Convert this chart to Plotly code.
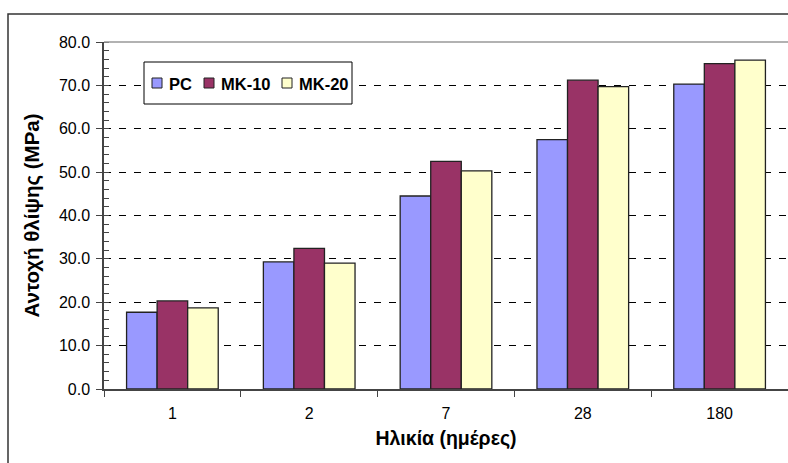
import plotly.graph_objects as go

ages = ["1", "2", "7", "28", "180"]
pc = [17.7, 29.3, 44.5, 57.5, 70.3]
mk10 = [20.3, 32.4, 52.5, 71.2, 75.0]
mk20 = [18.7, 29.0, 50.3, 69.7, 75.8]

series = [("PC", pc, "#9999FF"), ("MK-10", mk10, "#993366"), ("MK-20", mk20, "#FFFFCC")]

fig = go.Figure()
for name, vals, col in series:
    fig.add_trace(go.Bar(
        x=ages, y=vals, name=name, showlegend=False,
        marker=dict(color=col, line=dict(color="#222222", width=1.3)),
    ))

W, H = 788, 463
L, R, T, B = 104, 0, 42, 74
pw = W - L - R
ph = H - T - B

def px2x(p):
    return (p - L) / pw

def py2y(p):
    return (H - B - p) / ph

FONT = "Arial, Liberation Sans"

fig.update_layout(
    width=W, height=H,
    margin=dict(l=L, r=R, t=T, b=B),
    paper_bgcolor="white", plot_bgcolor="white",
    barmode="group", bargap=0.33, bargroupgap=0,
    font=dict(family=FONT, color="black"),
    xaxis=dict(
        type="category", tickson="boundaries", ticks="outside", ticklen=6,
        tickcolor="#444", showline=True, linecolor="#444", linewidth=1.5,
        showgrid=False, tickfont=dict(size=16), ticklabelstandoff=9,
        title=dict(text="Ηλικία (ημέρες)", font=dict(size=19.5, weight="bold"), standoff=10),
        range=[-0.5, 4.5],
    ),
    yaxis=dict(
        range=[0, 80], dtick=10, tickformat=".1f", ticks="outside", ticklen=6,
        tickcolor="#444", showline=True, linecolor="#444", linewidth=1.5,
        showgrid=True, gridcolor="black", griddash="7px,8px", gridwidth=1,
        zeroline=False, tickfont=dict(size=16), ticklabelstandoff=3,
        minor=dict(dtick=2, ticks="inside", ticklen=5, tickcolor="#444", showgrid=False),
        title=dict(text="Αντοχή θλίψης (MPa)", font=dict(size=20.5, weight="bold"), standoff=14),
    ),
)

# top border of plot area
fig.add_shape(type="line", xref="paper", yref="paper", x0=0, x1=1, y0=1, y1=1,
              line=dict(color="#999999", width=1.5), layer="above")
# outer chart frame
fig.add_shape(type="rect", xref="paper", yref="paper",
              x0=px2x(8), x1=px2x(800), y0=py2y(475), y1=py2y(14),
              line=dict(color="#333333", width=1.5), layer="above")

# legend box
fig.add_shape(type="rect", xref="paper", yref="paper",
              x0=px2x(144), x1=px2x(352), y0=py2y(104), y1=py2y(62),
              line=dict(color="black", width=1), fillcolor="white", layer="above")
leg_marker_x = [152, 204, 282]
leg_text_x = [167, 219, 297]
for (name, vals, col), mx, tx in zip(series, leg_marker_x, leg_text_x):
    fig.add_shape(type="rect", xref="paper", yref="paper",
                  x0=px2x(mx), x1=px2x(mx + 10), y0=py2y(88), y1=py2y(78),
                  line=dict(color="#222222", width=1), fillcolor=col, layer="above")
    fig.add_annotation(xref="paper", yref="paper", x=px2x(tx), y=py2y(83.5),
                       xanchor="left", yanchor="middle", showarrow=False,
                       text=name, font=dict(size=16.5, family=FONT, color="black", weight="bold"))

fig.write_html("out.html")
